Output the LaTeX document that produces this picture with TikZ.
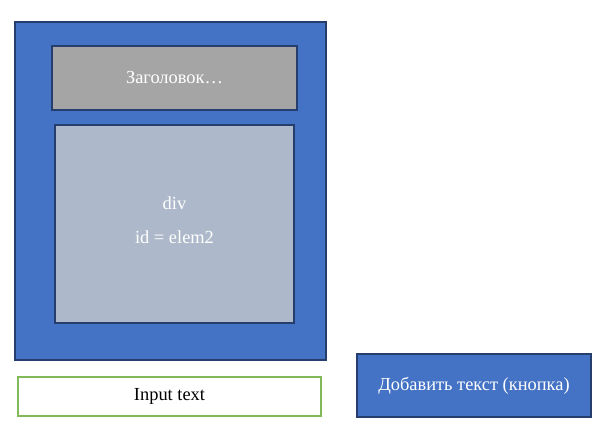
\documentclass[tikz,border=0pt]{standalone}
\usepackage{fontspec}
\setmainfont{Liberation Serif}
\usetikzlibrary{positioning}
\definecolor{pageblue}{RGB}{68,114,196}
\definecolor{pageedge}{RGB}{38,62,110}
\definecolor{headgray}{RGB}{165,165,165}
\definecolor{divgray}{RGB}{173,185,202}
\definecolor{inputgreen}{RGB}{130,186,90}

\begin{document}
\begin{tikzpicture}[
    x=0.75pt, y=-0.75pt,
    block/.style={rectangle, draw=pageedge, line width=0.8pt, fill=#1, text=white, inner sep=0pt, align=center, font=\fontsize{13.8}{16.5}\selectfont},
    field/.style={rectangle, draw=inputgreen, line width=0.9pt, fill=white, text=black, inner sep=0pt, font=\fontsize{13.8}{16.5}\selectfont}
]
\useasboundingbox (0,0) rectangle (610,434);

% Page frame
\node[block=pageblue, minimum width=311*0.75pt, minimum height=338*0.75pt] (page) at (170.5,191) {};

\node[block=headgray, minimum width=245*0.75pt, minimum height=64*0.75pt] (title) at (174.5,78) {Заголовок…};

\node[block=divgray, minimum width=239*0.75pt, minimum height=198*0.75pt] (elem) at (174.5,224) {};
\node[text=white, align=center, font=\fontsize{13.8}{16.5}\selectfont] (elemtext) at (174.5,220) {div\\[9pt]id = elem2};

% Controls below
\node[field, minimum width=303*0.75pt, minimum height=39*0.75pt] (input) at (169.5,396.5) {Input text};

\node[block=pageblue, minimum width=234*0.75pt, minimum height=63*0.75pt] (button) at (474,385.5) {Добавить текст (кнопка)};

\end{tikzpicture}
\end{document}
